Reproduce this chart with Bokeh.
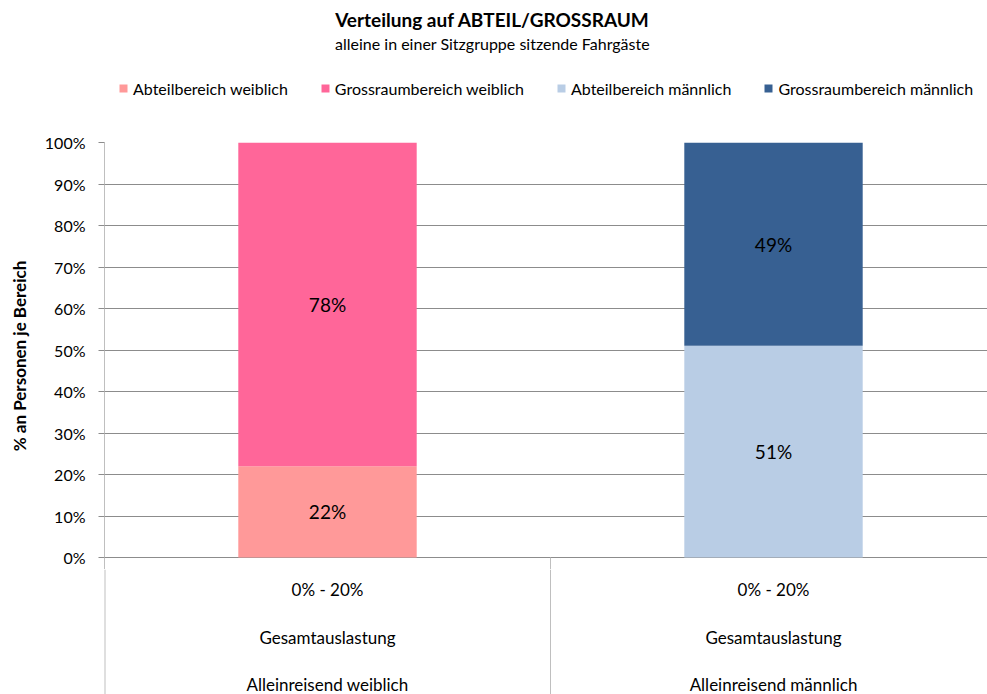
from bokeh.plotting import figure
from bokeh.layouts import column
from bokeh.models import (Range1d, FixedTicker, NumeralTickFormatter,
                          Legend, LegendItem, Label)
from bokeh.core.properties import value
from bokeh.embed import file_html
from bokeh.resources import INLINE

# ---- data ----
title_text = "Verteilung auf ABTEIL/GROSSRAUM"
subtitle_text = "alleine in einer Sitzgruppe sitzende Fahrgäste"
y_axis_title = "% an Personen je Bereich"
categories = ["Alleinreisend weiblich", "Alleinreisend männlich"]
level_load = ["0% - 20%", "0% - 20%"]
level_group = ["Gesamtauslastung", "Gesamtauslastung"]
abteil = [22, 51]        # percent, lower segment
grossraum = [78, 49]     # percent, upper segment
series_names = ["Abteilbereich weiblich", "Grossraumbereich weiblich",
                "Abteilbereich männlich", "Grossraumbereich männlich"]
colors = ["#FF9999", "#FF6699", "#B9CDE5", "#376092"]
y_ticks = [0, 10, 20, 30, 40, 50, 60, 70, 80, 90, 100]

FONT = "Lato"
W = 987
LEFT = 104
HEAD_H = 132
MAIN_H = 437
FOOT_H = 125
PX_PER_X = 446.0
PX_PER_UNIT = 415.0
Y_MAIN_LOW = -12 / PX_PER_UNIT
Y_FOOT_LOW = Y_MAIN_LOW - FOOT_H / PX_PER_UNIT
AXIS_GRAY = "#BFBFBF"
GRID_GRAY = "#8C8C8C"

xr = Range1d(0, (W - LEFT) / PX_PER_X)
TITLE_X = (492 - LEFT) / PX_PER_X

# ---------- header: title, subtitle, legend ----------
head = figure(width=W, height=HEAD_H, output_backend="svg", toolbar_location=None,
              x_range=xr, y_range=Range1d(0, HEAD_H),
              x_axis_location=None, y_axis_location=None,
              min_border_left=LEFT, min_border_right=0, min_border_top=0,
              min_border_bottom=0)
head.outline_line_color = None
head.grid.visible = False
head.add_layout(Label(x=TITLE_X, y=HEAD_H - 19, text=title_text,
                      text_align="center", text_baseline="middle",
                      text_font=FONT, text_font_style="bold",
                      text_font_size="19px", text_color="#000000"))
head.add_layout(Label(x=TITLE_X, y=HEAD_H - 43, text=subtitle_text,
                      text_align="center", text_baseline="middle",
                      text_font=FONT, text_font_size="16px",
                      text_color="#000000"))
# zero-height proxy bars, only used to give the legend its swatches
proxies = [head.vbar(x=[0], bottom=[0], top=[0], width=0.01,
                     fill_color=c, line_color=None) for c in colors]
legend = Legend(items=[LegendItem(label=n, renderers=[r])
                       for n, r in zip(series_names, proxies)],
                orientation="horizontal", location=(118 - LEFT, HEAD_H - 98),
                glyph_width=10, glyph_height=10, label_standoff=5,
                spacing=32, padding=0, margin=0, label_height=20,
                label_text_font=FONT, label_text_font_size="16px",
                label_text_color="#000000",
                border_line_color=None, background_fill_alpha=0)
head.add_layout(legend, "center")

# ---------- main chart ----------
p = figure(width=W, height=MAIN_H, output_backend="svg", toolbar_location=None,
           x_range=xr, y_range=Range1d(Y_MAIN_LOW, 1.0),
           x_axis_location=None,
           min_border_left=LEFT, min_border_right=0, min_border_top=10,
           min_border_bottom=0)
p.outline_line_color = None
p.xgrid.visible = False
p.ygrid.ticker = FixedTicker(ticks=[t / 100 for t in y_ticks])
p.ygrid.grid_line_color = GRID_GRAY
p.ygrid.grid_line_width = 1

yax = p.yaxis[0]
yax.ticker = FixedTicker(ticks=[t / 100 for t in y_ticks])
yax.formatter = NumeralTickFormatter(format="0%")
yax.major_label_text_font = FONT
yax.major_label_text_font_size = "16px"
yax.major_label_text_color = "#000000"
yax.axis_line_color = AXIS_GRAY
yax.major_tick_line_color = GRID_GRAY
yax.major_tick_out = 6
yax.major_tick_in = 0
yax.minor_tick_line_color = None
yax.major_label_standoff = 13
yax.axis_label = y_axis_title
yax.axis_label_text_font = FONT
yax.axis_label_text_font_style = "bold"
yax.axis_label_text_font_size = "17px"
yax.axis_label_text_color = "#000000"
yax.axis_label_standoff = 12

xs = [i + 0.5 for i in range(len(categories))]
bar_w = 0.4

for i in range(len(categories)):
    a = abteil[i] / 100
    g = grossraum[i] / 100
    p.vbar(x=[xs[i]], bottom=[0], top=[a], width=bar_w,
           fill_color=colors[2 * i], line_color=None)
    p.vbar(x=[xs[i]], bottom=[a], top=[a + g], width=bar_w,
           fill_color=colors[2 * i + 1], line_color=None)

lx, ly, lt = [], [], []
for i in range(len(categories)):
    a = abteil[i] / 100
    g = grossraum[i] / 100
    lx += [xs[i], xs[i]]
    ly += [a / 2, a + g / 2]
    lt += [f"{abteil[i]}%", f"{grossraum[i]}%"]
p.text(x=lx, y=ly, text=lt, text_align="center", text_baseline="middle",
       text_font=value(FONT), text_font_size="19px", text_color="#000000")

seps = [float(i) for i in range(1, len(categories))]
p.segment(x0=seps, y0=[0] * len(seps), x1=seps, y1=[Y_MAIN_LOW] * len(seps),
          line_color=AXIS_GRAY, line_width=1)

# ---------- footer: multi-level category axis ----------
foot = figure(width=W, height=FOOT_H, output_backend="svg", toolbar_location=None,
              x_range=xr, y_range=Range1d(Y_FOOT_LOW, Y_MAIN_LOW),
              x_axis_location=None, y_axis_location=None,
              min_border_left=LEFT, min_border_right=0, min_border_top=0,
              min_border_bottom=0)
foot.outline_line_color = None
foot.grid.visible = False
# left edge line (continuation of the value axis), drawn 2px so the visible half is 1px
foot.segment(x0=[0.0], y0=[Y_MAIN_LOW], x1=[0.0], y1=[Y_FOOT_LOW],
             line_color=AXIS_GRAY, line_width=2)
foot.segment(x0=seps, y0=[Y_MAIN_LOW] * len(seps), x1=seps,
             y1=[Y_FOOT_LOW] * len(seps), line_color=AXIS_GRAY, line_width=1)
for yy, labels in [(-0.077, level_load), (-0.193, level_group), (-0.306, categories)]:
    foot.text(x=xs, y=[yy] * len(xs), text=labels, text_align="center",
              text_baseline="middle", text_font=value(FONT), text_font_size="17px",
              text_color="#000000")

layout = column(head, p, foot, spacing=0)
open("out.html", "w").write(file_html(layout, INLINE))
